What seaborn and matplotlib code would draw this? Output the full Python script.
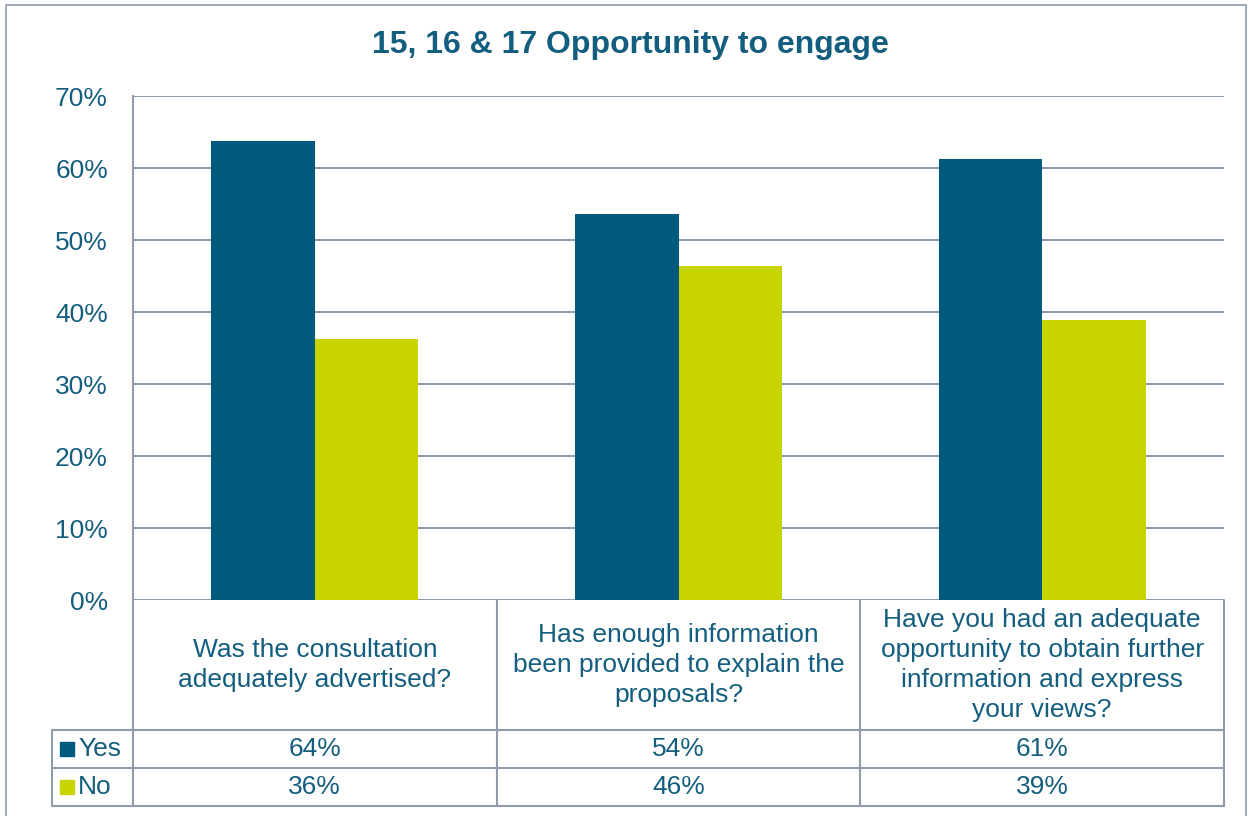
import matplotlib
matplotlib.use("Agg")
import matplotlib.pyplot as plt
import seaborn as sns
import pandas as pd
from matplotlib.patches import Rectangle
from matplotlib.lines import Line2D

# data
questions = [
    "Was the consultation\nadequately advertised?",
    "Has enough information\nbeen provided to explain the\nproposals?",
    "Have you had an adequate\nopportunity to obtain further\ninformation and express\nyour views?",
]
yes_vals = [63.8, 53.6, 61.2]
no_vals = [36.2, 46.4, 38.9]
yes_labels = ["64%", "54%", "61%"]
no_labels = ["36%", "46%", "39%"]
y_ticks = [0, 10, 20, 30, 40, 50, 60, 70]

df = pd.DataFrame({
    "question": questions * 2,
    "answer": ["Yes"] * 3 + ["No"] * 3,
    "value": yes_vals + no_vals,
})

c_yes = "#005A7D"
c_no = "#C8D400"
c_text = "#135E7E"
c_grid = "#8E9CAC"
fs = 19

sns.set_style("white")
plt.rcParams["font.family"] = ["Liberation Sans", "DejaVu Sans"]

fig = plt.figure(figsize=(12.52, 8.16), dpi=100)
ax = fig.add_axes([133 / 1252, 1 - 600 / 816, 1091 / 1252, 504 / 816])

sns.barplot(data=df, x="question", y="value", hue="answer", order=questions,
            hue_order=["Yes", "No"], palette=[c_yes, c_no], width=0.57,
            gap=0, saturation=1, linewidth=0, ax=ax, legend=False)

ax.set_ylim(0, 70)
ax.set_xlim(-0.5, 2.5)
ax.set_yticks(y_ticks)
ax.set_yticklabels([f"{t}%" for t in y_ticks], color=c_text, fontsize=fs)
ax.tick_params(axis="y", length=0, pad=18)
ax.set_xticks([])
ax.set_xlabel("")
ax.set_ylabel("")
for t in y_ticks:
    ax.axhline(t, color=c_grid, lw=1.5, zorder=0)
for s in ["top", "right", "bottom"]:
    ax.spines[s].set_visible(False)
ax.spines["left"].set_color(c_grid)
ax.spines["left"].set_linewidth(1.5)

fig.text(630 / 1252, 1 - 45 / 816, "15, 16 & 17 Opportunity to engage",
         color=c_text, fontsize=23, fontweight="bold", ha="center", va="center")

# data table below the plot (axes coords)
tr = ax.transAxes
h = 504
y_cat = -130 / h
y_yes = -168 / h
y_no = -206 / h
x_leg = -81 / 1091
lkw = dict(color=c_grid, lw=1.5, transform=tr, clip_on=False)
for xv in [0, 1 / 3, 2 / 3, 1]:
    ax.add_line(Line2D([xv, xv], [0, y_no], **lkw))
ax.add_line(Line2D([x_leg, x_leg], [y_cat, y_no], **lkw))
for yv in [y_cat, y_yes, y_no]:
    ax.add_line(Line2D([x_leg, 1], [yv, yv], **lkw))

for i, q in enumerate(questions):
    xc = (i + 0.5) / 3
    ax.text(xc, y_cat / 2, q, transform=tr, ha="center", va="center",
            color=c_text, fontsize=fs, linespacing=1.3)
    ax.text(xc, (y_cat + y_yes) / 2, yes_labels[i], transform=tr, ha="center",
            va="center", color=c_text, fontsize=fs)
    ax.text(xc, (y_yes + y_no) / 2, no_labels[i], transform=tr, ha="center",
            va="center", color=c_text, fontsize=fs)

sq_w = 14 / 1091
sq_h = 14 / h
for name, col, y0, y1 in [("Yes", c_yes, y_cat, y_yes), ("No", c_no, y_yes, y_no)]:
    ym = (y0 + y1) / 2
    ax.add_patch(Rectangle((x_leg + 8 / 1091, ym - sq_h / 2), sq_w, sq_h,
                           color=col, transform=tr, clip_on=False))
    ax.text(x_leg + 26 / 1091, ym, name, transform=tr, ha="left", va="center",
            color=c_text, fontsize=fs)

# chart area border
fig.add_artist(Rectangle((6 / 1252, -0.05), 1240 / 1252, 1.05 - 5 / 816,
                         fill=False, edgecolor=c_grid, lw=1.2,
                         transform=fig.transFigure))

fig.savefig("out.png", dpi=100)
